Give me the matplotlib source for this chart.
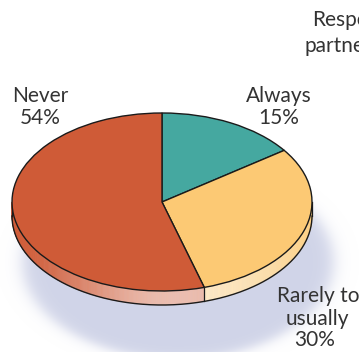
import numpy as np
import matplotlib
matplotlib.use("Agg")
import matplotlib.pyplot as plt
from matplotlib.collections import PolyCollection
from matplotlib.colors import to_rgb

# share of answers, clockwise from twelve o'clock
categories = ["Always", "Rarely to usually", "Never"]
percent = [15, 30, 54]
colors = ["#45a8a0", "#fcc974", "#cf5b37"]

W, H = 359, 352
CX, CY, RX, RY = 162, 202, 150, 89     # pie centre / radii in pixels
DEPTH = 14 / RY                          # thickness of the disc


def X(px):
    return (px - CX) / RX


def Y(py):
    return (CY - py) / RY


fig = plt.figure(figsize=(W / 100, H / 100), dpi=100)
ax = fig.add_axes([0, 0, 1, 1])

# soft drop shadow under the disc
gx, gy = np.meshgrid(np.arange(W) + 0.5, np.arange(H) + 0.5)
r = np.sqrt(((gx - 178) / 160) ** 2 + ((gy - 262) / 100) ** 2)
shadow = np.zeros((H, W, 4))
shadow[..., :3] = np.array([208, 212, 232]) / 255
shadow[..., 3] = 1 / (1 + np.exp((r - 0.97) / 0.03))
ax.imshow(shadow, extent=(X(0), X(W), Y(H), Y(0)), origin="upper",
          interpolation="bilinear", zorder=0)

wedges, _ = ax.pie(percent, colors=colors, startangle=90, counterclock=False,
                   radius=1, center=(0, 0),
                   wedgeprops=dict(edgecolor="#1a1a1a", linewidth=1.0))
for w in wedges:
    w.set_zorder(5)


def shade(a):
    # lighter band on the front of the rim
    width = 40 if a < -85 else 60
    return 0.6 * np.exp(-((a + 85) / width) ** 2)


# rim of the disc, only the front half is visible
polys, fcs = [], []
bounds = []
for w, c in zip(wedges, colors):
    t1, t2 = w.theta1, w.theta2
    # shift into (-180, 180]
    lo, hi = t1, t2
    if hi > 180:
        lo, hi = lo - 360, hi - 360
    lo, hi = max(lo, -180), min(hi, 0)
    if lo >= hi:
        continue
    bounds += [lo, hi]
    base = np.array(to_rgb(c))
    angs = np.linspace(lo, hi, int((hi - lo) * 2) + 2)
    for a0, a1 in zip(angs[:-1], angs[1:]):
        r0, r1 = np.radians(a0), np.radians(a1)
        polys.append([(np.cos(r0), np.sin(r0)), (np.cos(r1), np.sin(r1)),
                      (np.cos(r1), np.sin(r1) - DEPTH),
                      (np.cos(r0), np.sin(r0) - DEPTH)])
        f = shade((a0 + a1) / 2)
        fcs.append(base + (1 - base) * f)
ax.add_collection(PolyCollection(polys, facecolors=fcs, edgecolors=fcs,
                                 linewidths=0.4, zorder=2))

t = np.radians(np.linspace(-180, 0, 300))
ax.plot(np.cos(t), np.sin(t) - DEPTH, color="#1a1a1a", lw=1.0, zorder=3)
for b in sorted(set(np.round(bounds, 3))):
    rb = np.radians(b)
    ax.plot([np.cos(rb)] * 2, [np.sin(rb), np.sin(rb) - DEPTH],
            color="#1a1a1a", lw=0.9, zorder=3)

ax.set_xlim(X(0), X(W))
ax.set_ylim(Y(H), Y(0))
ax.set_aspect("auto")
ax.axis("off")

txt = dict(fontsize=15, color="#333333", family="Lato", va="baseline")
ax.text(X(40.5), Y(102), "Never", ha="center", **txt)
ax.text(X(40.5), Y(124), "54%", ha="center", **txt)
ax.text(X(279), Y(102), "Always", ha="center", **txt)
ax.text(X(279), Y(124), "15%", ha="center", **txt)
ax.text(X(318), Y(302), "Rarely to", ha="center", **txt)
ax.text(X(317), Y(325), "usually", ha="center", **txt)
ax.text(X(315), Y(346), "30%", ha="center", **txt)
ax.text(X(312), Y(26), "Respondent", ha="left", **txt)
ax.text(X(305), Y(52), "partner", ha="left", **txt)

fig.savefig("out.png", dpi=100)
